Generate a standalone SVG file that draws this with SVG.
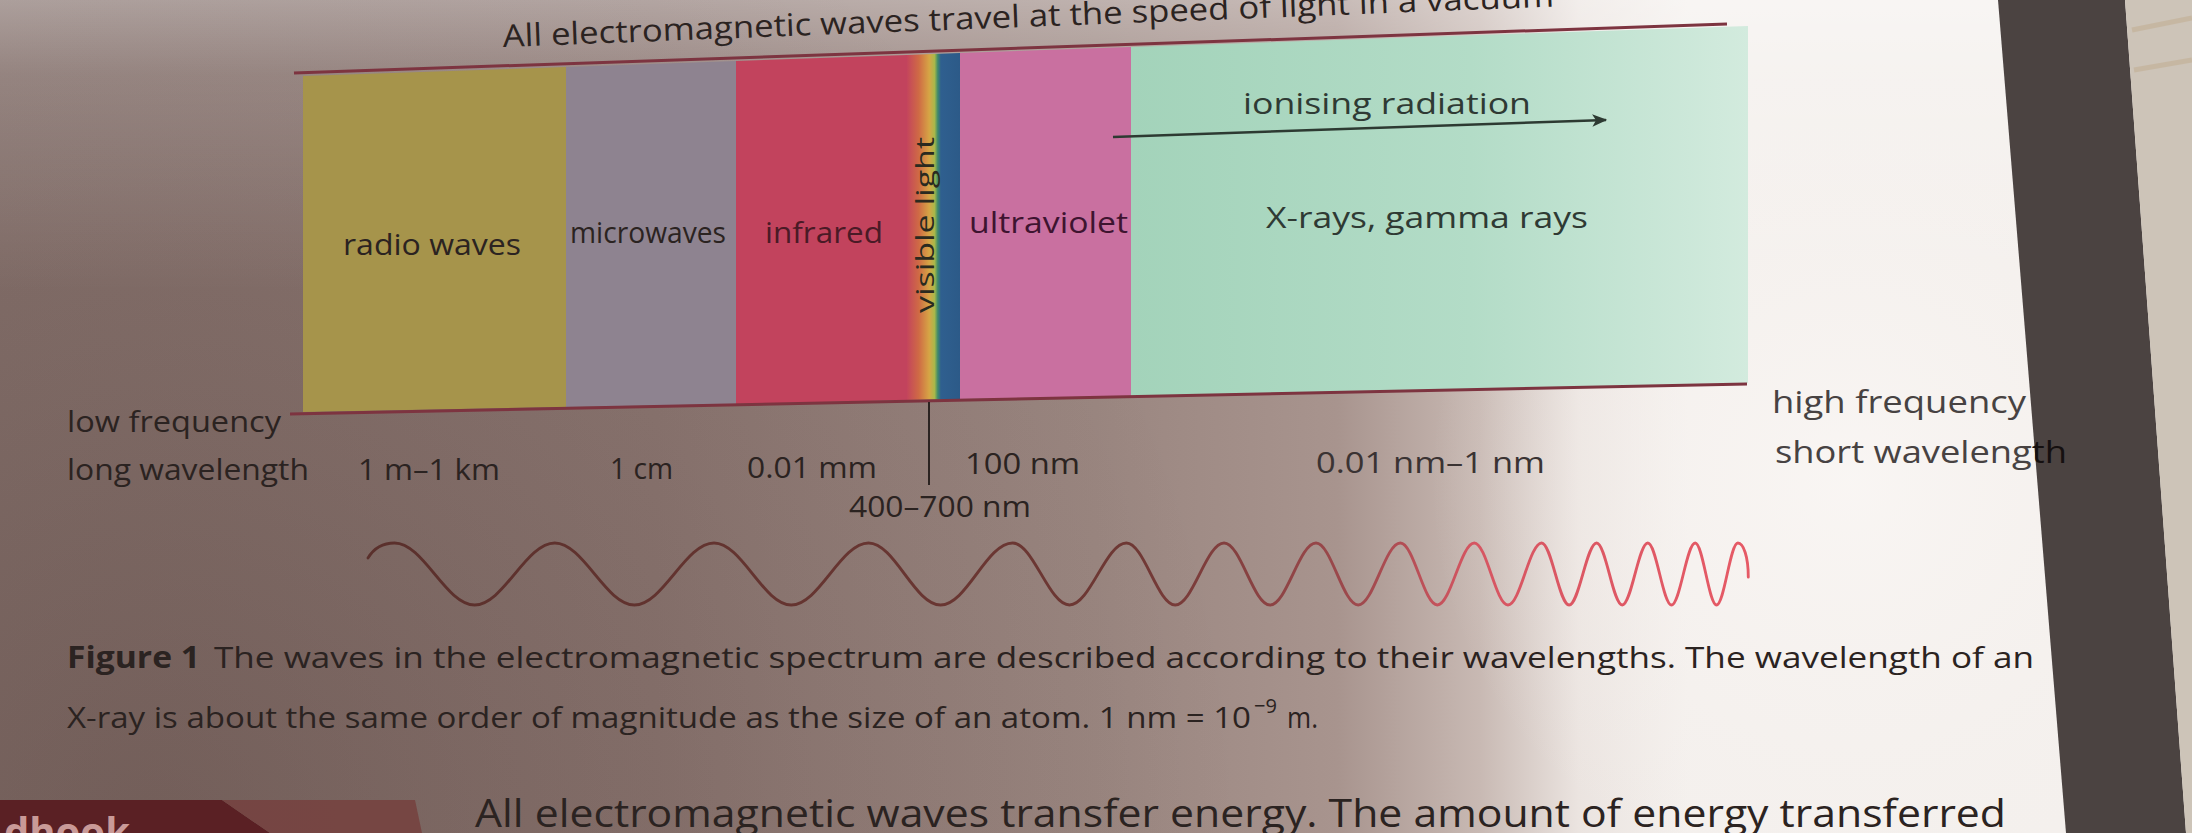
<svg xmlns="http://www.w3.org/2000/svg" width="2192" height="833" viewBox="0 0 2192 833">
<defs>
  <linearGradient id="bg" x1="0" y1="0" x2="2192" y2="0" gradientUnits="userSpaceOnUse">
    <stop offset="0" stop-color="#86726d"/>
    <stop offset="0.3" stop-color="#8c7772"/>
    <stop offset="0.5" stop-color="#9a8680"/>
    <stop offset="0.61" stop-color="#a8948e"/>
    <stop offset="0.675" stop-color="#c8b9b3"/>
    <stop offset="0.72" stop-color="#ebe4e0"/>
    <stop offset="0.77" stop-color="#f4f0ed"/>
    <stop offset="1" stop-color="#f4f0ed"/>
  </linearGradient>
  <linearGradient id="topLight" x1="0" y1="0" x2="0" y2="833" gradientUnits="userSpaceOnUse">
    <stop offset="0" stop-color="#ffffff" stop-opacity="0.36"/>
    <stop offset="0.09" stop-color="#ffffff" stop-opacity="0.17"/>
    <stop offset="0.35" stop-color="#ffffff" stop-opacity="0"/>
    <stop offset="1" stop-color="#ffffff" stop-opacity="0"/>
  </linearGradient>
  <radialGradient id="shade" cx="150" cy="833" r="1100" gradientUnits="userSpaceOnUse">
    <stop offset="0" stop-color="#2a1410" stop-opacity="0.22"/>
    <stop offset="0.6" stop-color="#2a1410" stop-opacity="0.07"/>
    <stop offset="1" stop-color="#2a1410" stop-opacity="0"/>
  </radialGradient>
  <radialGradient id="spot" cx="1850" cy="480" r="420" gradientUnits="userSpaceOnUse">
    <stop offset="0" stop-color="#fbf8f6" stop-opacity="0.7"/>
    <stop offset="1" stop-color="#f6f1ee" stop-opacity="0"/>
  </radialGradient>
  <linearGradient id="green" x1="1131" y1="0" x2="1750" y2="0" gradientUnits="userSpaceOnUse">
    <stop offset="0" stop-color="#a3d3ba"/>
    <stop offset="0.55" stop-color="#b3dcc7"/>
    <stop offset="1" stop-color="#d3ebde"/>
  </linearGradient>
  <linearGradient id="visible" x1="907" y1="0" x2="960" y2="0" gradientUnits="userSpaceOnUse">
    <stop offset="0" stop-color="#c4455c"/>
    <stop offset="0.22" stop-color="#cf6a45"/>
    <stop offset="0.42" stop-color="#d6a545"/>
    <stop offset="0.52" stop-color="#a8b84a"/>
    <stop offset="0.58" stop-color="#3f8a6a"/>
    <stop offset="0.64" stop-color="#2f5f8f"/>
    <stop offset="1" stop-color="#2c5a88"/>
  </linearGradient>
  <linearGradient id="waveCol" x1="300" y1="0" x2="1760" y2="0" gradientUnits="userSpaceOnUse">
    <stop offset="0" stop-color="#5a302c"/>
    <stop offset="0.55" stop-color="#6e3834"/>
    <stop offset="0.72" stop-color="#a04a4e"/>
    <stop offset="0.8" stop-color="#d65662"/>
    <stop offset="1" stop-color="#e65a66"/>
  </linearGradient>
  <marker id="arrow" viewBox="0 0 12 10" refX="11" refY="5" markerWidth="6" markerHeight="5" orient="auto" markerUnits="strokeWidth">
    <path d="M0,0 L12,5 L0,10 L3,5 Z" fill="#2d3a32"/>
  </marker>
  <style>
    text { font-family: "Open Sans", "Noto Sans", "Liberation Sans", sans-serif; fill: #2b2321; }
    .lbl { font-size: 29px; }
    .ax { font-size: 29px; }
    .rt { font-size: 31px; fill: #474242; }
    .cap { font-size: 30px; }
    .capb { font-size: 30px; font-weight: bold; }
    .body { font-size: 38px; }
    .rule { stroke: #7d3440; stroke-width: 3; fill: none; }
  </style>
</defs>

<!-- photographed page background -->
<g id="background">
  <rect x="0" y="0" width="2192" height="833" fill="url(#bg)"/>
  <rect x="0" y="0" width="2192" height="833" fill="url(#topLight)"/>
  <rect x="0" y="0" width="2192" height="833" fill="url(#shade)"/>
  <rect x="0" y="0" width="2192" height="833" fill="url(#spot)"/>
  <polygon points="1998,0 2125,0 2186,833 2066,833" fill="#4b4341"/>
  <polygon points="2125,0 2192,0 2192,833 2186,833" fill="#cdc4b8"/>
  <path d="M2132,30 L2192,18 M2134,70 L2192,60" stroke="#b99c72" stroke-width="5" opacity="0.3"/>
  <polygon points="0,800 222,800 270,833 0,833" fill="#5a2024"/>
  <polygon points="222,800 415,800 422,833 270,833" fill="#76413e" opacity="0.85"/>
  <text x="4" y="846" style="font-size:40px; font-weight:bold; fill:#c99a98;">dhook</text>
</g>

<!-- title -->
<g id="title">
  <text x="503" y="47" transform="rotate(-2.2 503 47)" style="font-size:31px;" textLength="1052" lengthAdjust="spacingAndGlyphs">All electromagnetic waves travel at the speed of light in a vacuum</text>
  <line class="rule" x1="294" y1="73" x2="1727" y2="24"/>
</g>

<!-- spectrum bands -->
<g id="radio-waves">
  <polygon points="303,76 566,67 566,407 303,412" fill="#a6944b"/>
  <text class="lbl" x="343" y="255" textLength="178" lengthAdjust="spacingAndGlyphs">radio waves</text>
</g>
<g id="microwaves">
  <polygon points="566,67 736,61 736,404 566,407" fill="#8e8390"/>
  <text class="lbl" x="570" y="243" textLength="156" lengthAdjust="spacingAndGlyphs">microwaves</text>
</g>
<g id="infrared">
  <polygon points="736,61 907,55 907,400 736,404" fill="#c2435d"/>
  <text class="lbl" x="765" y="243" textLength="118" lengthAdjust="spacingAndGlyphs" style="fill:#4a1a26;">infrared</text>
</g>
<g id="visible-light">
  <polygon points="907,55 960,53 960,399 907,400" fill="url(#visible)"/>
  <text class="lbl" transform="translate(934 313) rotate(-90)" style="font-size:25px; fill:#2a2a20;" textLength="176" lengthAdjust="spacingAndGlyphs">visible light</text>
</g>
<g id="ultraviolet">
  <polygon points="960,53 1131,47 1131,396 960,399" fill="#c970a0"/>
  <text class="lbl" x="969" y="233" textLength="159" lengthAdjust="spacingAndGlyphs" style="fill:#3e1430;">ultraviolet</text>
</g>
<g id="x-rays-gamma">
  <polygon points="1131,47 1748,26 1748,383 1131,396" fill="url(#green)"/>
  <text class="lbl" x="1266" y="228" textLength="322" lengthAdjust="spacingAndGlyphs" style="fill:#2f3a34;">X-rays, gamma rays</text>
</g>
<g id="ionising-radiation">
  <text class="lbl" x="1243" y="114" textLength="288" lengthAdjust="spacingAndGlyphs" style="fill:#2f3a34;">ionising radiation</text>
</g>

<!-- connectors / axis lines -->
<g id="connectors">
  <line x1="1113" y1="137" x2="1606" y2="120" stroke="#2d3a32" stroke-width="2.5" marker-end="url(#arrow)"/>
  <line class="rule" x1="290" y1="414" x2="1747" y2="384" stroke="#85404a"/>
  <line x1="929" y1="402" x2="929" y2="485" stroke="#2b2321" stroke-width="2"/>
</g>

<!-- axis labels -->
<g id="axis-labels">
  <text class="ax" x="67" y="432" textLength="214" lengthAdjust="spacingAndGlyphs">low frequency</text>
  <text class="ax" x="67" y="480" textLength="242" lengthAdjust="spacingAndGlyphs">long wavelength</text>
  <text class="ax" x="358" y="480" textLength="142" lengthAdjust="spacingAndGlyphs">1 m–1 km</text>
  <text class="ax" x="610" y="479" textLength="63" lengthAdjust="spacingAndGlyphs">1 cm</text>
  <text class="ax" x="747" y="478" textLength="130" lengthAdjust="spacingAndGlyphs">0.01 mm</text>
  <text class="ax" x="965" y="474" textLength="115" lengthAdjust="spacingAndGlyphs">100 nm</text>
  <text class="ax" x="849" y="517" textLength="182" lengthAdjust="spacingAndGlyphs">400–700 nm</text>
  <text class="ax" x="1316" y="473" textLength="229" lengthAdjust="spacingAndGlyphs" style="fill:#3a3333;">0.01 nm–1 nm</text>
  <text class="rt" x="1772" y="413" textLength="254" lengthAdjust="spacingAndGlyphs">high frequency</text>
  <text class="rt" x="1775" y="463" textLength="292" lengthAdjust="spacingAndGlyphs">short waveleng<tspan style="fill:#151010;">th</tspan></text>
</g>

<!-- wave -->
<g id="wave" transform="matrix(0.948 0 0 1 83.6 -8)">
  <path fill="none" stroke="url(#waveCol)" stroke-width="3" stroke-linecap="round" d="M300,566 C307,555 316,551 328,551
    C358.4,551 382.1,613 412.5,613 C442.9,613 466.6,551 497,551
    C527.2,551 550.8,613 581,613 C611.2,613 634.8,551 665,551
    C694.3,551 717.2,613 746.5,613 C775.8,613 798.7,551 828,551
    C855.4,551 876.6,613 904,613 C931.4,613 952.6,551 980,551
    C1001.6,551 1018.4,613 1040,613 C1061.6,613 1078.4,551 1100,551
    C1118.5,551 1133,613 1151.5,613 C1170,613 1184.5,551 1203,551
    C1220.5,551 1234,613 1251.5,613 C1269,613 1282.5,551 1300,551
    C1316,551 1328.5,613 1344.5,613 C1360.5,613 1373,551 1389,551
    C1403,551 1414,613 1428,613 C1442,613 1453,551 1467,551
    C1479.8,551 1489.7,613 1502.5,613 C1515.3,613 1525.2,551 1538,551
    C1548.4,551 1556.6,613 1567,613 C1577.4,613 1585.6,551 1596,551
    C1605.7,551 1613.3,613 1623,613 C1632.7,613 1640.3,551 1650,551
    C1659,551 1666,613 1675,613 C1684,613 1691,551 1700,551
    C1708.1,551 1714.4,613 1722.5,613 C1730.6,613 1736.9,551 1745,551
    C1751,551 1756,565 1756,585"/>
</g>

<!-- caption -->
<g id="caption">
  <text class="capb" x="67" y="668" textLength="133" lengthAdjust="spacingAndGlyphs">Figure 1</text>
  <text class="cap" x="214" y="668" textLength="1820" lengthAdjust="spacingAndGlyphs">The waves in the electromagnetic spectrum are described according to their wavelengths. The wavelength of an</text>
  <text class="cap" x="67" y="728" textLength="1184" lengthAdjust="spacingAndGlyphs">X-ray is about the same order of magnitude as the size of an atom. 1 nm = 10</text>
  <text x="1254" y="713" style="font-size:20px;">−9</text>
  <text class="cap" x="1287" y="728" textLength="31" lengthAdjust="spacingAndGlyphs">m.</text>
  <text class="body" x="475" y="827" textLength="1531" lengthAdjust="spacingAndGlyphs">All electromagnetic waves transfer energy. The amount of energy transferred</text>
</g>
</svg>
